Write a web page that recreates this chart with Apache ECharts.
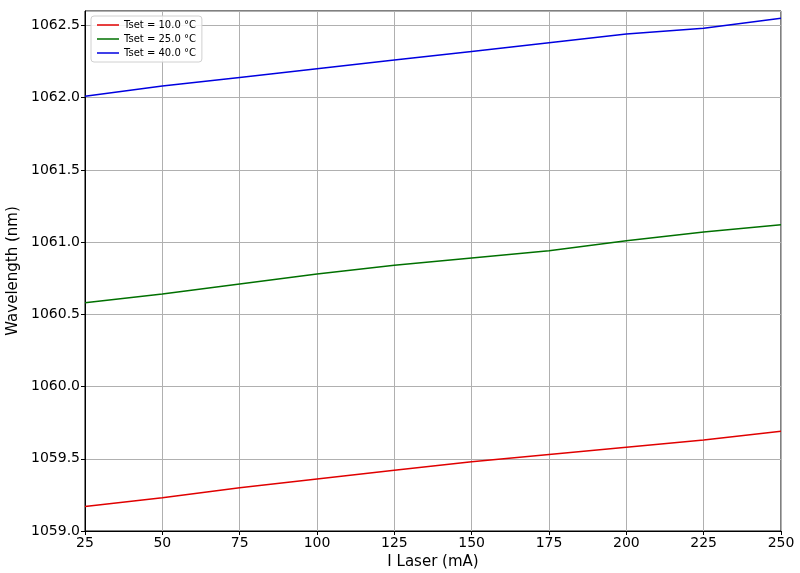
<!DOCTYPE html>
<html>
<head>
<meta charset="utf-8">
<script src="https://cdn.jsdelivr.net/npm/echarts@6/dist/echarts.min.js"></script>
<style>html,body{margin:0;padding:0;background:#fff}#c{width:800px;height:573px}</style>
</head>
<body>
<div id="c"></div>
<script>
const current = [25, 50, 75, 100, 125, 150, 175, 200, 225, 250];
const wl10 = [1059.17, 1059.23, 1059.30, 1059.36, 1059.42, 1059.48, 1059.53, 1059.58, 1059.63, 1059.69];
const wl25 = [1060.58, 1060.64, 1060.71, 1060.78, 1060.84, 1060.89, 1060.94, 1061.01, 1061.07, 1061.12];
const wl40 = [1062.01, 1062.08, 1062.14, 1062.20, 1062.26, 1062.32, 1062.38, 1062.44, 1062.48, 1062.55];
const seriesNames = ['Tset = 10.0 °C', 'Tset = 25.0 °C', 'Tset = 40.0 °C'];
const seriesColors = ['#e00000', '#007000', '#0000e0'];

const chart = echarts.init(document.getElementById('c'), null, {renderer: 'canvas'});
const font = 'DejaVu Sans';
const mk = (vals) => current.map((x, i) => [x, vals[i]]);
const allVals = [wl10, wl25, wl40];
chart.setOption({
  animation: false,
  backgroundColor: '#fff',
  textStyle: {fontFamily: font},
  grid: {left: 85, right: 19, top: 11, bottom: 42, containLabel: false, outerBoundsMode: 'none',
    show: true, borderColor: '#000', borderWidth: 1, backgroundColor: 'transparent'},
  legend: {
    left: 91, top: 16, orient: 'vertical',
    backgroundColor: 'rgba(255,255,255,0.85)', borderColor: '#d0d0d0', borderWidth: 1, borderRadius: 3,
    padding: [4, 6, 4, 6], itemGap: 4, itemWidth: 22, itemHeight: 8,
    textStyle: {fontFamily: font, fontSize: 10, color: '#000'},
    icon: 'path://M0,3.5 L22,3.5 L22,5 L0,5 Z',
    data: seriesNames
  },
  xAxis: {
    type: 'value', min: 25, max: 250, interval: 25,
    name: 'I Laser (mA)', nameLocation: 'middle', nameGap: 23,
    nameTextStyle: {fontFamily: font, fontSize: 15, color: '#000'},
    axisLine: {show: true, onZero: false, lineStyle: {color: '#000', width: 1}},
    axisTick: {show: true, length: 4, inside: false, lineStyle: {color: '#000'}},
    axisLabel: {fontFamily: font, fontSize: 14, color: '#000', margin: 5},
    splitLine: {show: true, lineStyle: {color: '#b0b0b0', width: 1}}
  },
  yAxis: {
    type: 'value', min: 1059, max: 1062.6, interval: 0.5,
    name: 'Wavelength (nm)', nameLocation: 'middle', nameGap: 64, nameRotate: 90,
    nameTextStyle: {fontFamily: font, fontSize: 15, color: '#000'},
    axisLine: {show: true, onZero: false, lineStyle: {color: '#000', width: 1}},
    axisTick: {show: true, length: 4, inside: false, lineStyle: {color: '#000'}},
    axisLabel: {fontFamily: font, fontSize: 14, color: '#000', margin: 5, showMaxLabel: false,
      formatter: v => v.toFixed(1)},
    splitLine: {show: true, lineStyle: {color: '#b0b0b0', width: 1}}
  },
  series: seriesNames.map((n, i) => ({
    name: n, type: 'line', data: mk(allVals[i]), showSymbol: false, symbol: 'none',
    lineStyle: {color: seriesColors[i], width: 1.5}, itemStyle: {color: seriesColors[i]}
  }))
});
</script>
</body>
</html>
